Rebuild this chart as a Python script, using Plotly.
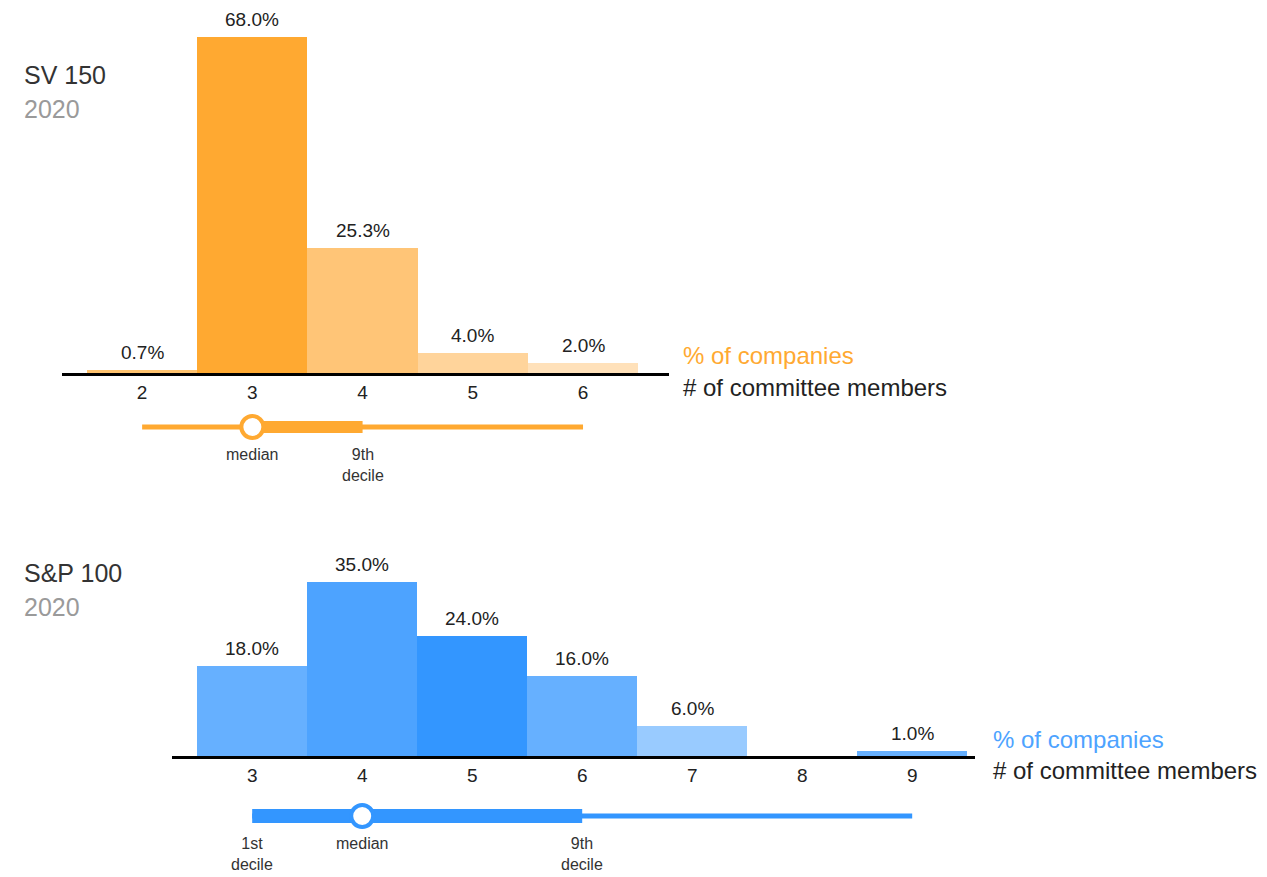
import plotly.graph_objects as go

W, H = 1267, 877
FONT = "Liberation Sans, Arial, sans-serif"
DARK = "#222222"

# ---------------- data ----------------
sv_members = [2, 3, 4, 5, 6]
sv_pct = [0.7, 68.0, 25.3, 4.0, 2.0]
sv_colors = ["#FFC36F", "#FFA931", "#FFC577", "#FFD49B", "#FFE1BA"]
sv_range = [2, 6]        # min / max
sv_deciles = [3, 4]      # 1st / 9th decile
sv_median = 3
sv_marks = [("median", 3), ("9th<br>decile", 4)]

sp_members = [3, 4, 5, 6, 7, 8, 9]
sp_pct = [18.0, 35.0, 24.0, 16.0, 6.0, 0.0, 1.0]
sp_colors = ["#66B0FF", "#4DA3FF", "#3396FF", "#66B0FF", "#99CBFF", "#99CBFF", "#66B0FF"]
sp_range = [3, 9]
sp_deciles = [3, 6]
sp_median = 4
sp_marks = [("1st<br>decile", 3), ("median", 4), ("9th<br>decile", 6)]

ORANGE = "#FFA931"
BLUE = "#3396FF"


def px(x):
    return x / W


def py(y):
    return 1 - y / H


fig = go.Figure()

# ---------------- bars ----------------
fig.add_trace(go.Bar(x=sv_members, y=sv_pct, marker=dict(color=sv_colors, line=dict(width=0)),
                     width=1, xaxis="x", yaxis="y", hoverinfo="skip"))
fig.add_trace(go.Bar(x=sp_members, y=sp_pct, marker=dict(color=sp_colors, line=dict(width=0)),
                     width=1, xaxis="x2", yaxis="y2", hoverinfo="skip"))

annotations = []
for xs, ys, xa, ya in [(sv_members, sv_pct, "x", "y"), (sp_members, sp_pct, "x2", "y2")]:
    for xv, yv in zip(xs, ys):
        if yv <= 0:
            continue
        annotations.append(dict(x=xv, y=yv, xref=xa, yref=ya, text=f"{yv:.1f}%",
                                showarrow=False, yanchor="bottom", yshift=5,
                                font=dict(family=FONT, size=19, color=DARK)))


# ---------------- dumbbells ----------------
def dumbbell(xa, ya, rng, dec, med, color, thick):
    fig.add_trace(go.Scatter(x=rng, y=[0, 0], mode="lines", line=dict(color=color, width=5),
                             xaxis=xa, yaxis=ya, hoverinfo="skip"))
    fig.add_trace(go.Scatter(x=dec, y=[0, 0], mode="lines", line=dict(color=color, width=thick),
                             xaxis=xa, yaxis=ya, hoverinfo="skip"))
    fig.add_trace(go.Scatter(x=[med], y=[0], mode="markers",
                             marker=dict(symbol="circle", size=22, color="white",
                                         line=dict(color=color, width=4)),
                             xaxis=xa, yaxis=ya, hoverinfo="skip"))


dumbbell("x", "y3", sv_range, sv_deciles, sv_median, ORANGE, 12)
dumbbell("x2", "y4", sp_range, sp_deciles, sp_median, BLUE, 14)

for marks, xa, ya in [(sv_marks, "x", "y3"), (sp_marks, "x2", "y4")]:
    for text, xv in marks:
        annotations.append(dict(x=xv, y=0, xref=xa, yref=ya, text=text, showarrow=False,
                                yanchor="top", yshift=-17,
                                font=dict(family=FONT, size=16, color="#333333")))


# ---------------- titles & axis captions ----------------
def label(text, x, y, size, color, anchor="left"):
    annotations.append(dict(x=px(x), y=py(y), xref="paper", yref="paper", text=text,
                            showarrow=False, xanchor=anchor, yanchor="middle",
                            font=dict(family=FONT, size=size, color=color)))


label("SV 150", 22, 75, 25, "#333333")
label("2020", 22, 109, 25, "#9A9A9A")
label("S&P 100", 22, 573, 25, "#333333")
label("2020", 22, 607, 25, "#9A9A9A")

label("% of companies", 681, 355, 24, ORANGE)
label("# of committee members", 681, 387, 24, DARK)
label("% of companies", 991, 739, 24, "#4DA3FF")
label("# of committee members", 991, 770, 24, DARK)

# ---------------- axes ----------------
xcommon = dict(showgrid=False, zeroline=False, showline=True, linecolor="black", linewidth=2.5,
               ticks="", tickfont=dict(family=FONT, size=19, color=DARK), fixedrange=True)
ycommon = dict(visible=False, showgrid=False, zeroline=False, fixedrange=True)

fig.update_layout(
    width=W, height=H, margin=dict(l=0, r=0, t=0, b=0),
    paper_bgcolor="white", plot_bgcolor="white", showlegend=False, bargap=0,
    xaxis=dict(domain=[px(62), px(669)], range=[1.273, 6.78], anchor="y",
               tickvals=sv_members, ticktext=[str(v) for v in sv_members], **xcommon),
    yaxis=dict(domain=[py(373), py(20)], range=[0, 353 / 4.94], anchor="x", **ycommon),
    xaxis2=dict(domain=[px(172), px(975)], range=[2.271, 9.571], anchor="y2",
                tickvals=sp_members, ticktext=[str(v) for v in sp_members], **xcommon),
    yaxis2=dict(domain=[py(756), py(560)], range=[0, 196 / 4.98], anchor="x2", **ycommon),
    yaxis3=dict(domain=[py(447), py(407)], range=[-1, 1], anchor="x", **ycommon),
    yaxis4=dict(domain=[py(836), py(796)], range=[-1, 1], anchor="x2", **ycommon),
    annotations=annotations,
)

fig.write_html("out.html", config={"displayModeBar": False},
               post_script="document.body.style.margin='0';document.body.style.overflow='hidden';")
